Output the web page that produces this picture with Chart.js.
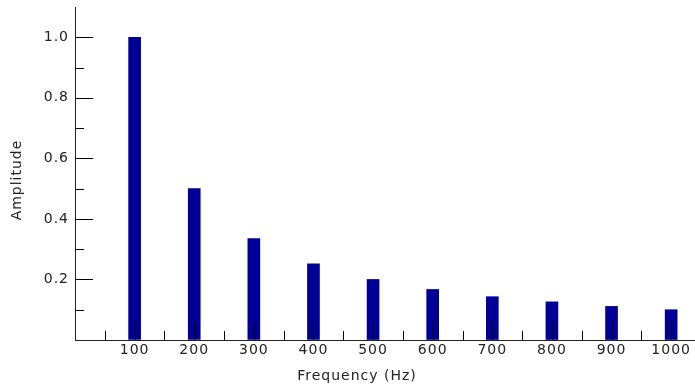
<!DOCTYPE html>
<html>
<head>
<meta charset="utf-8">
<script src="https://cdn.jsdelivr.net/npm/chart.js@4/dist/chart.umd.min.js"></script>
<style>
    html, body { margin: 0; padding: 0; background: #fff; }
    #wrap { width: 695px; height: 389px; position: relative; }
</style>
</head>
<body>
<div id="wrap"><canvas id="chart"></canvas></div>
<script>
// harmonic amplitudes
const frequencies = [100, 200, 300, 400, 500, 600, 700, 800, 900, 1000];
const amplitudes = [1.0, 0.5, 0.335, 0.252, 0.2, 0.167, 0.143, 0.126, 0.111, 0.1];

const X_TITLE = 'Frequency (Hz)';
const Y_TITLE = 'Amplitude';
const BAR_COLOR = '#000096';
const AXIS_COLOR = '#222';

Chart.defaults.font.family = "'DejaVu Sans', Verdana, sans-serif";
Chart.defaults.font.size = 14;
Chart.defaults.color = AXIS_COLOR;

// inward tick marks (major + minor) and axis titles
const axisExtras = {
    id: 'axisExtras',
    beforeDraw(chart) {
        chart.ctx.letterSpacing = '1px';
    },
    afterDatasetsDraw(chart) {
        const {ctx, chartArea, scales: {x, y}} = chart;
        ctx.save();
        ctx.strokeStyle = '#000';
        ctx.lineWidth = 1;
        ctx.beginPath();
        x.ticks.forEach(function (t) {
            if (t.value <= 0 || t.value % 50 !== 0) return;
            let len = t.value % 100 === 0 ? 18 : 9;
            let px = Math.round(x.getPixelForValue(t.value)) + 0.5;
            ctx.moveTo(px, chartArea.bottom);
            ctx.lineTo(px, chartArea.bottom - len);
        });
        y.ticks.forEach(function (t) {
            let n = Math.round(t.value * 10);
            if (n <= 0 || n > 10) return;
            let len = n % 2 === 0 ? 18 : 9;
            let py = Math.round(y.getPixelForValue(t.value)) + 0.5;
            ctx.moveTo(chartArea.left, py);
            ctx.lineTo(chartArea.left + len, py);
        });
        ctx.stroke();

        ctx.fillStyle = AXIS_COLOR;
        ctx.font = "14px 'DejaVu Sans', Verdana, sans-serif";
        ctx.letterSpacing = '1px';
        ctx.textAlign = 'center';
        ctx.textBaseline = 'middle';
        ctx.fillText(X_TITLE, 357, 376);

        ctx.translate(17, 180);
        ctx.rotate(-Math.PI / 2);
        ctx.fillText(Y_TITLE, 0, 0);
        ctx.restore();
    }
};

new Chart(document.getElementById('chart'), {
    type: 'bar',
    data: {
        datasets: [{
            data: frequencies.map((f, i) => ({x: f, y: amplitudes[i]})),
            backgroundColor: BAR_COLOR,
            borderWidth: 0,
            barThickness: 12
        }]
    },
    options: {
        responsive: true,
        maintainAspectRatio: false,
        animation: false,
        layout: { padding: { top: 7, right: 0, left: 0, bottom: 0 } },
        plugins: {
            legend: { display: false },
            tooltip: { enabled: false }
        },
        scales: {
            x: {
                type: 'linear',
                offset: false,
                min: 0,
                max: 1040,
                grid: { display: true, drawOnChartArea: false, drawTicks: false, offset: false },
                border: { display: true, color: AXIS_COLOR, width: 1 },
                ticks: {
                    autoSkip: false,
                    maxRotation: 0,
                    padding: 2,
                    callback: (v) => (v > 0 && v % 100 === 0) ? String(v) : ''
                },
                // ticks every 50 Hz: labelled majors at each harmonic, minors between
                afterBuildTicks: (s) => {
                    s.ticks = [];
                    for (let v = 0; v <= frequencies[frequencies.length - 1]; v += 50) {
                        s.ticks.push({value: v});
                    }
                },
                afterFit: (s) => { s.height = 49; s.paddingLeft = 0; s.paddingRight = 0; }
            },
            y: {
                min: 0,
                max: 1.1,
                grid: { display: true, drawOnChartArea: false, drawTicks: false },
                border: { display: true, color: AXIS_COLOR, width: 1 },
                ticks: {
                    stepSize: 0.1,
                    autoSkip: false,
                    padding: 6,
                    callback: function (v) {
                        let n = Math.round(v * 10);
                        return (n > 0 && n <= 10 && n % 2 === 0) ? (n / 10).toFixed(1) : '';
                    }
                },
                afterFit: (s) => { s.width = 75; s.paddingTop = 0; s.paddingBottom = 0; }
            }
        }
    },
    plugins: [axisExtras]
});
</script>
</body>
</html>
